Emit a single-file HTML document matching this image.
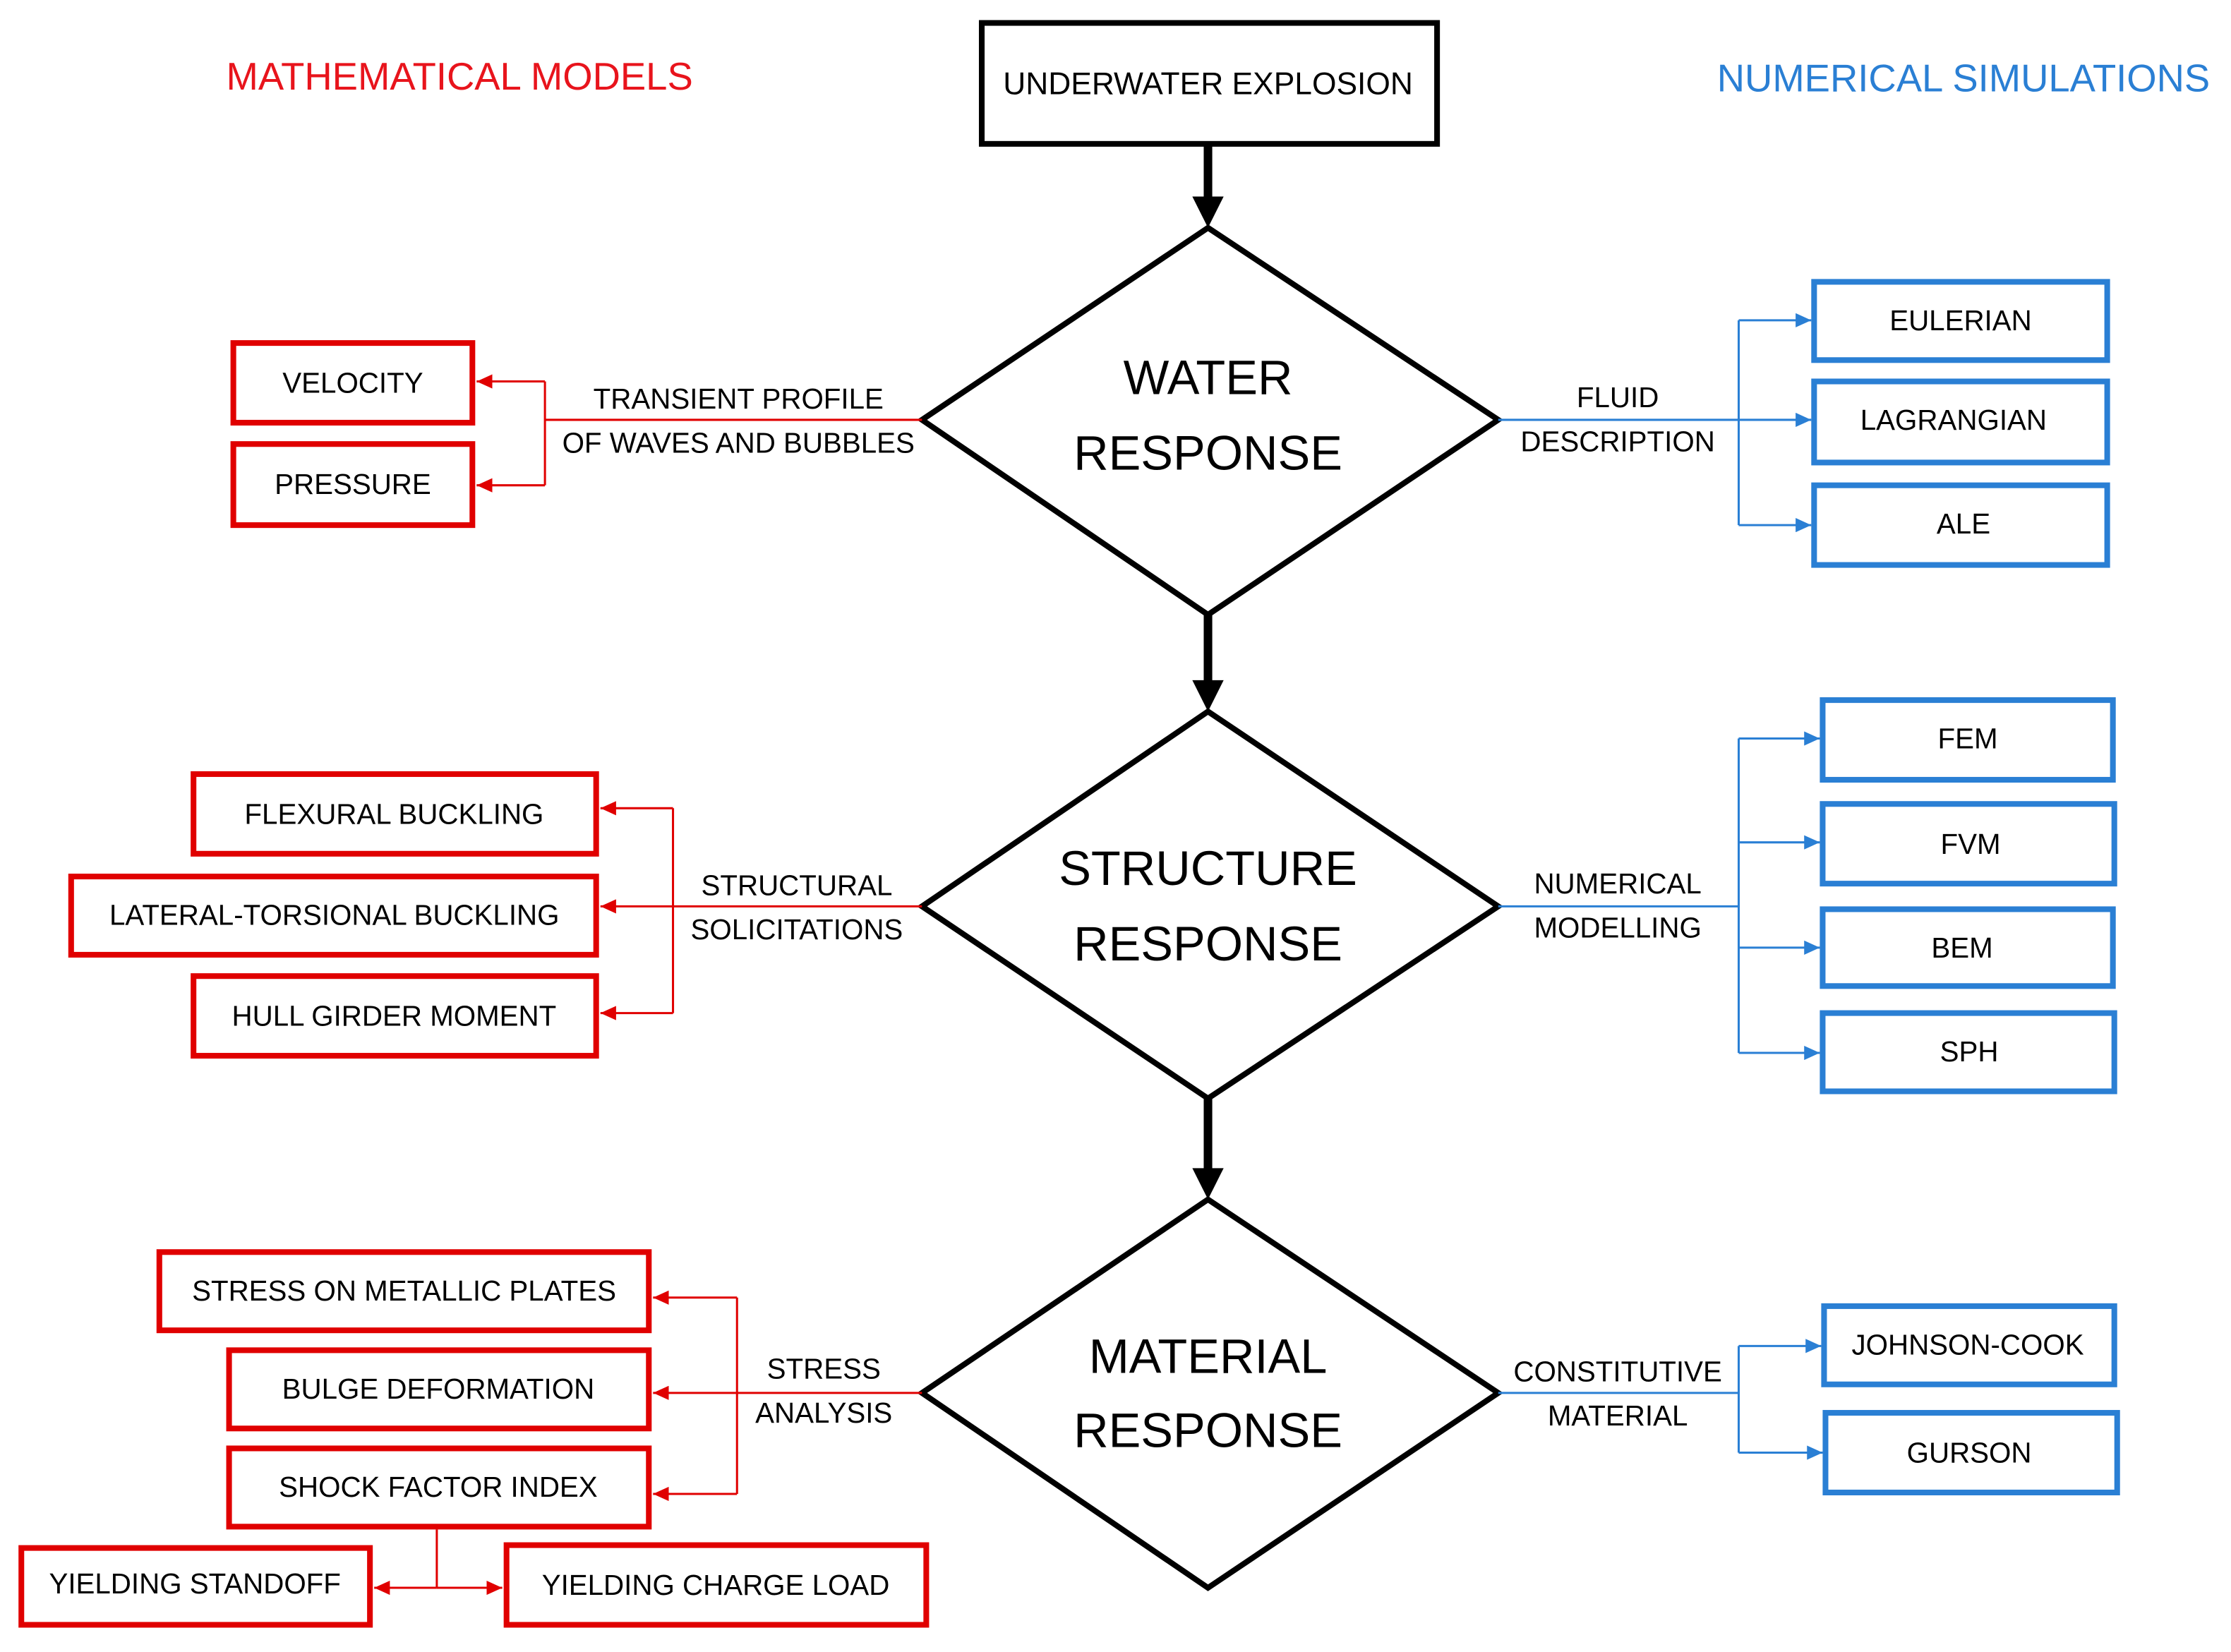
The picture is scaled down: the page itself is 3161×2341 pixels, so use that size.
<!DOCTYPE html>
<html><head><meta charset="utf-8"><style>html,body{margin:0;padding:0;background:#fff}svg{display:block}</style></head>
<body>
<svg xmlns="http://www.w3.org/2000/svg" width="3161" height="2341" viewBox="0 0 1568 1161" font-family="Liberation Sans, sans-serif">
<defs>
<marker id="ar" markerWidth="11" markerHeight="10" refX="11" refY="5" orient="auto" markerUnits="userSpaceOnUse" viewBox="0 0 11 10"><path d="M0,0 L11,5 L0,10 z" fill="#e00000"/></marker>
<marker id="ab" markerWidth="11" markerHeight="10" refX="11" refY="5" orient="auto" markerUnits="userSpaceOnUse" viewBox="0 0 11 10"><path d="M0,0 L11,5 L0,10 z" fill="#2a7fd4"/></marker>
</defs>
<rect width="1568" height="1161" fill="#fff"/>
<text x="323" y="63" font-size="27" fill="#e8141c" text-anchor="middle">MATHEMATICAL MODELS</text>
<text x="1380" y="64" font-size="27" fill="#2a7fd4" text-anchor="middle">NUMERICAL SIMULATIONS</text>

<g fill="none" stroke="#000" stroke-width="4">
<rect x="690" y="16" width="320" height="85"/>
<polygon points="849,160 1053,295 849,432 648,295"/>
<polygon points="849,500 1053,637 849,772 648,637"/>
<polygon points="849,843 1053,979 849,1116 648,979"/>
<line x1="849" y1="101" x2="849" y2="140" stroke-width="6"/>
<line x1="849" y1="432" x2="849" y2="480" stroke-width="6"/>
<line x1="849" y1="772" x2="849" y2="823" stroke-width="6"/>
</g>
<g fill="#000"><polygon points="838,138 860,138 849,160"/><polygon points="838,478 860,478 849,500"/><polygon points="838,821 860,821 849,843"/></g>
<g text-anchor="middle" fill="#000">
<text x="849" y="66" font-size="22">UNDERWATER EXPLOSION</text>
<text x="849" y="277" font-size="34">WATER</text><text x="849" y="330" font-size="34">RESPONSE</text>
<text x="849" y="622" font-size="34">STRUCTURE</text><text x="849" y="675" font-size="34">RESPONSE</text>
<text x="849" y="965" font-size="34">MATERIAL</text><text x="849" y="1017" font-size="34">RESPONSE</text>
</g>

<g fill="none" stroke="#e00000" stroke-width="4">
<rect x="164" y="241" width="168" height="56"/><rect x="164" y="312" width="168" height="57"/>
<rect x="136" y="544" width="283" height="56"/><rect x="50" y="616" width="369" height="55"/><rect x="136" y="686" width="283" height="56"/>
<rect x="112" y="880" width="344" height="55"/><rect x="161" y="949" width="295" height="55"/><rect x="161" y="1018" width="295" height="55"/>
<rect x="15" y="1088" width="245" height="54"/><rect x="356" y="1086" width="295" height="56"/>
</g>
<g fill="none" stroke="#e00000" stroke-width="1.5">
<line x1="648" y1="295" x2="383" y2="295"/><line x1="383" y1="268" x2="383" y2="341"/>
<line x1="383" y1="268" x2="335" y2="268" marker-end="url(#ar)"/><line x1="383" y1="341" x2="335" y2="341" marker-end="url(#ar)"/>
<line x1="648" y1="637" x2="422" y2="637" marker-end="url(#ar)"/><line x1="473" y1="568" x2="473" y2="712"/>
<line x1="473" y1="568" x2="422" y2="568" marker-end="url(#ar)"/><line x1="473" y1="712" x2="422" y2="712" marker-end="url(#ar)"/>
<line x1="648" y1="979" x2="459" y2="979" marker-end="url(#ar)"/><line x1="518" y1="912" x2="518" y2="1050"/>
<line x1="518" y1="912" x2="459" y2="912" marker-end="url(#ar)"/><line x1="518" y1="1050" x2="459" y2="1050" marker-end="url(#ar)"/>
<line x1="307" y1="1075" x2="307" y2="1116"/>
<line x1="307" y1="1116" x2="263" y2="1116" marker-end="url(#ar)"/><line x1="307" y1="1116" x2="353" y2="1116" marker-end="url(#ar)"/>
</g>
<g text-anchor="middle" fill="#000" font-size="20">
<text x="248" y="276">VELOCITY</text><text x="248" y="347">PRESSURE</text>
<text x="277" y="579">FLEXURAL BUCKLING</text><text x="235" y="650">LATERAL-TORSIONAL BUCKLING</text><text x="277" y="721">HULL GIRDER MOMENT</text>
<text x="284" y="914">STRESS ON METALLIC PLATES</text><text x="308" y="983">BULGE DEFORMATION</text><text x="308" y="1052">SHOCK FACTOR INDEX</text>
<text x="137" y="1120">YIELDING STANDOFF</text><text x="503" y="1121">YIELDING CHARGE LOAD</text>
<text x="519" y="287">TRANSIENT PROFILE</text><text x="519" y="318">OF WAVES AND BUBBLES</text>
<text x="560" y="629">STRUCTURAL</text><text x="560" y="660">SOLICITATIONS</text>
<text x="579" y="969">STRESS</text><text x="579" y="1000">ANALYSIS</text>
<text x="1137" y="286">FLUID</text><text x="1137" y="317">DESCRIPTION</text>
<text x="1137" y="628">NUMERICAL</text><text x="1137" y="659">MODELLING</text>
<text x="1137" y="971">CONSTITUTIVE</text><text x="1137" y="1002">MATERIAL</text>
<text x="1378" y="232">EULERIAN</text><text x="1373" y="302">LAGRANGIAN</text><text x="1380" y="375">ALE</text>
<text x="1383" y="526">FEM</text><text x="1385" y="600">FVM</text><text x="1379" y="673">BEM</text><text x="1384" y="746">SPH</text>
<text x="1383" y="952">JOHNSON-COOK</text><text x="1384" y="1028">GURSON</text>
</g>

<g fill="none" stroke="#2a7fd4" stroke-width="4">
<rect x="1275" y="198" width="206" height="55"/><rect x="1275" y="268" width="206" height="57"/><rect x="1275" y="341" width="206" height="56"/>
<rect x="1281" y="492" width="204" height="56"/><rect x="1281" y="565" width="205" height="56"/><rect x="1281" y="639" width="204" height="54"/><rect x="1281" y="712" width="205" height="55"/>
<rect x="1282" y="918" width="204" height="55"/><rect x="1283" y="993" width="205" height="56"/>
</g>
<g fill="none" stroke="#2a7fd4" stroke-width="1.5">
<line x1="1053" y1="295" x2="1273" y2="295" marker-end="url(#ab)"/><line x1="1222" y1="225" x2="1222" y2="369"/>
<line x1="1222" y1="225" x2="1273" y2="225" marker-end="url(#ab)"/><line x1="1222" y1="369" x2="1273" y2="369" marker-end="url(#ab)"/>
<line x1="1053" y1="637" x2="1222" y2="637"/><line x1="1222" y1="519" x2="1222" y2="740"/>
<line x1="1222" y1="519" x2="1279" y2="519" marker-end="url(#ab)"/><line x1="1222" y1="592" x2="1279" y2="592" marker-end="url(#ab)"/>
<line x1="1222" y1="666" x2="1279" y2="666" marker-end="url(#ab)"/><line x1="1222" y1="740" x2="1279" y2="740" marker-end="url(#ab)"/>
<line x1="1053" y1="979" x2="1222" y2="979"/><line x1="1222" y1="946" x2="1222" y2="1021"/>
<line x1="1222" y1="946" x2="1280" y2="946" marker-end="url(#ab)"/><line x1="1222" y1="1021" x2="1281" y2="1021" marker-end="url(#ab)"/>
</g>
</svg>
</body></html>
